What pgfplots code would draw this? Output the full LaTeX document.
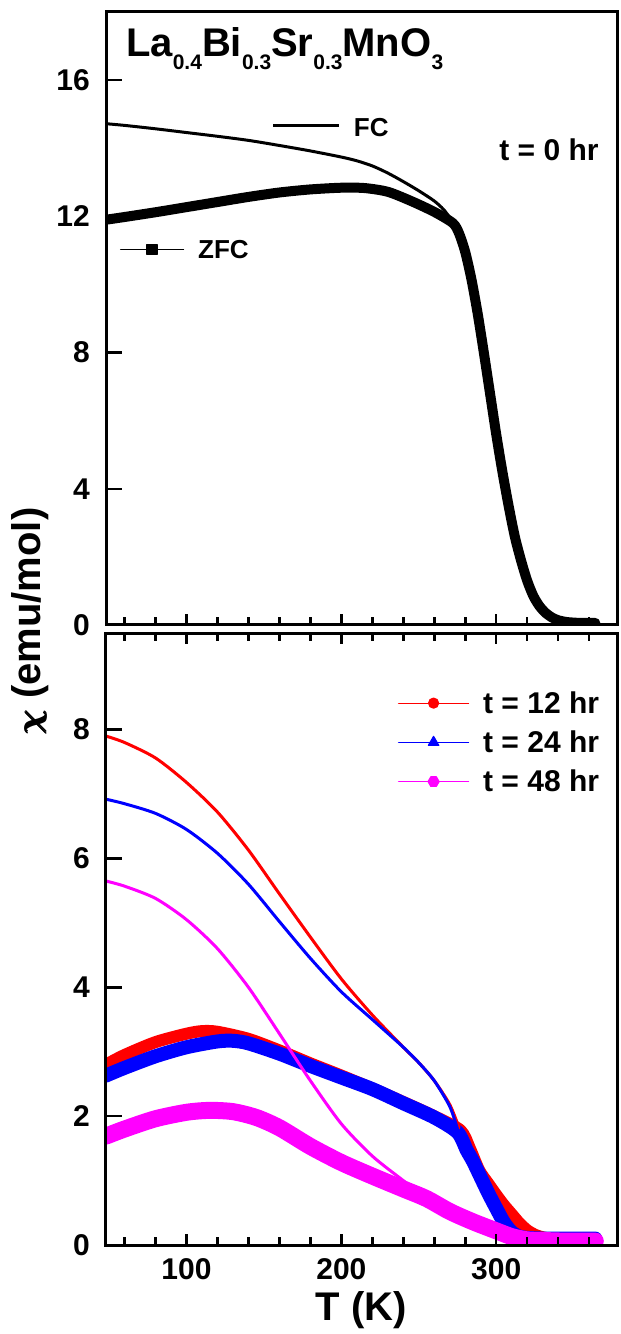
\documentclass[border=0pt]{standalone}
\usepackage{amsmath}
\usepackage{fontspec}
\setmainfont{Liberation Sans}
\usepackage{graphicx}
\usepackage{pgfplots}
\pgfplotsset{compat=1.18}

\definecolor{cred}{RGB}{255,0,0}
\definecolor{cblue}{RGB}{0,0,255}
\definecolor{cmag}{RGB}{255,0,255}

\pgfdeclareplotmark{hexagon*}{%
  \pgfpathmoveto{\pgfqpointpolar{0}{\pgfplotmarksize}}%
  \pgfpathlineto{\pgfqpointpolar{60}{\pgfplotmarksize}}%
  \pgfpathlineto{\pgfqpointpolar{120}{\pgfplotmarksize}}%
  \pgfpathlineto{\pgfqpointpolar{180}{\pgfplotmarksize}}%
  \pgfpathlineto{\pgfqpointpolar{240}{\pgfplotmarksize}}%
  \pgfpathlineto{\pgfqpointpolar{300}{\pgfplotmarksize}}%
  \pgfpathclose\pgfusepathqfillstroke}

\newcommand\sub[1]{\raisebox{-13pt}{\fontsize{21}{21}\selectfont #1}}

\pgfplotsset{
  panel/.style={
    width=511pt, scale only axis,
    xmin=48, xmax=378,
    axis line style={line width=3pt},
    axis on top,
    tick align=inside,
    tick style={black, line width=2.5pt},
    xtick={100,200,300},
    minor xtick={60,80,120,140,160,180,220,240,260,280,320,340,360},
    major tick length=11pt, minor tick length=8pt,
    major y tick style={/pgfplots/major tick length=16pt},
    ytick pos=left,
    tick label style={font=\fontsize{30}{30}\selectfont\bfseries},
    /pgf/number format/assume math mode=true,
    yticklabel style={anchor=east, inner sep=0pt, xshift=-16pt},
    xticklabel style={anchor=north, inner sep=0pt, yshift=-13pt},
    every axis plot/.append style={line join=round, line cap=round, smooth, tension=0.45},
  }
}

\begin{document}
\begin{tikzpicture}
% lower panel: after ageing
\begin{axis}[panel, at={(106pt,89pt)}, anchor=south west, height=612pt,
  ymin=0, ymax=9.5, ytick={0,2,4,6,8},
  xtick pos=both, xticklabel pos=left,
  xlabel={T (K)}, ylabel={\scalebox{1.35}{$\pmb{\boldsymbol{\chi}}$} (emu/mol)},
  label style={font=\fontsize{40}{40}\selectfont\bfseries},
  xlabel style={at={(rel axis cs:0.5,-0.106)}, anchor=center},
  ylabel style={at={(rel axis cs:-0.149,1.02)}, anchor=center},
  legend style={draw=none, fill=none, inner sep=0pt,
    at={(rel axis cs:0.571,0.908)}, anchor=north west,
    font=\fontsize{30}{30}\selectfont\bfseries, row sep=12pt,
    /tikz/every odd column/.append style={column sep=12pt}},
  legend cell align=left,
  legend image code/.code={\draw[mark repeat=2, mark phase=2, #1]
    plot coordinates {(0pt,0pt) (35pt,0pt) (70pt,0pt)};},
]
\addlegendimage{cred, line width=1.2pt, mark=*, mark size=5pt}
\addlegendentry{t = 12 hr}
\addlegendimage{cblue, line width=1.2pt, mark=triangle*, mark size=6pt}
\addlegendentry{t = 24 hr}
\addlegendimage{cmag, line width=1.2pt, mark=hexagon*, mark size=5.5pt}
\addlegendentry{t = 48 hr}

% ZFC branches
\addplot[cred, line width=12pt, forget plot] coordinates {
(48,2.80) (60,2.95) (80,3.15) (100,3.28) (110,3.32) (120,3.31) (140,3.20)
(160,3.02) (180,2.82) (200,2.63) (220,2.43) (240,2.22) (260,2.00) (277,1.78)
(283,1.50) (289,1.16) (295,0.95) (300,0.78) (305,0.62) (310,0.48) (315,0.34)
(320,0.23) (325,0.16) (330,0.12) (335,0.10) (345,0.09) (355,0.09) (364,0.09)};
\addplot[cblue, line width=14pt, forget plot] coordinates {
(48,2.63) (60,2.75) (80,2.93) (100,3.07) (120,3.16) (130,3.17) (140,3.13)
(160,2.97) (180,2.78) (200,2.60) (220,2.42) (240,2.20) (260,1.98) (275,1.75)
(281,1.47) (285,1.30) (290,1.05) (295,0.80) (300,0.57) (305,0.35) (310,0.20)
(315,0.13) (320,0.11) (330,0.10) (345,0.10) (364,0.10)};
% FC branches
\addplot[cred, line width=3pt, forget plot] coordinates {
(48,7.90) (60,7.80) (80,7.56) (100,7.18) (120,6.72) (140,6.13) (160,5.45)
(180,4.78) (200,4.13) (220,3.57) (240,3.07) (250,2.83) (260,2.55) (270,2.18)
(276,1.82)};
\addplot[cblue, line width=3pt, forget plot] coordinates {
(48,6.92) (60,6.85) (80,6.70) (100,6.45) (120,6.08) (140,5.60) (160,5.02)
(180,4.45) (200,3.93) (220,3.50) (240,3.07) (250,2.83) (260,2.55) (270,2.15)
(275,1.80)};
\addplot[cmag, line width=3pt, forget plot] coordinates {
(48,5.65) (60,5.57) (80,5.38) (100,5.05) (120,4.60) (140,4.00) (160,3.28)
(180,2.55) (200,1.88) (220,1.38) (240,1.00) (250,0.82) (255,0.74)};
\addplot[cmag, line width=17pt, forget plot] coordinates {
(48,1.69) (60,1.80) (80,1.96) (100,2.06) (115,2.09) (130,2.07) (145,1.98)
(160,1.82) (180,1.53) (200,1.28) (220,1.07) (240,0.87) (255,0.72) (270,0.52)
(285,0.36) (300,0.22) (310,0.13) (320,0.08) (330,0.07) (345,0.06) (364,0.06)};
\end{axis}

% upper panel: as prepared
\begin{axis}[panel, at={(106pt,709pt)}, anchor=south west, height=613pt,
  ymin=0, ymax=18, ytick={0,4,8,12,16},
  xtick pos=left, xticklabels={},
  legend style={draw=none, fill=none, inner sep=0pt,
    at={(rel axis cs:0.027,0.612)}, anchor=west,
    font=\fontsize{26}{26}\selectfont\bfseries,
    /tikz/every odd column/.append style={column sep=12pt}},
  legend image code/.code={\draw[mark repeat=2, mark phase=2, #1]
    plot coordinates {(0pt,0pt) (31.5pt,0pt) (63pt,0pt)};},
]
\addlegendimage{black, line width=1.2pt, mark=square*, mark size=5pt}
\addlegendentry{ZFC}

\addplot[black, line width=3pt, forget plot] coordinates {
(48,14.72) (60,14.67) (80,14.57) (100,14.46) (120,14.35) (140,14.23)
(160,14.08) (180,13.92) (200,13.74) (210,13.63) (220,13.48) (230,13.27)
(240,13.02) (250,12.75) (260,12.45) (266,12.20) (272,11.85)};
\addplot[black, line width=10pt, forget plot] coordinates {
(48,11.90) (60,11.98) (80,12.12) (100,12.27) (120,12.42) (140,12.57)
(160,12.70) (180,12.79) (200,12.84) (215,12.83) (230,12.72) (245,12.45)
(260,12.13) (272,11.80) (276,11.50) (280,10.95) (284,10.15) (288,9.15)
(292,8.00) (296,6.80) (300,5.60) (304,4.50) (308,3.50) (312,2.60)
(316,1.90) (320,1.30) (324,0.85) (328,0.55) (332,0.35) (336,0.22)
(340,0.14) (345,0.09) (350,0.07) (355,0.06) (360,0.06) (364,0.06)};

\draw[black, line width=3.5pt] (axis cs:156,14.66) -- (axis cs:198.7,14.66);
\node[anchor=west, inner sep=0pt, font=\fontsize{26}{26}\selectfont\bfseries]
  at (axis cs:208,14.6) {FC};
\node[anchor=center, inner sep=0pt, font=\fontsize{30}{30}\selectfont\bfseries]
  at (rel axis cs:0.867,0.775) {t = 0 hr};
\node[anchor=base west, inner sep=0pt, font=\fontsize{40}{40}\selectfont\bfseries]
  at (rel axis cs:0.039,0.927) {La\sub{0.4}Bi\sub{0.3}Sr\sub{0.3}MnO\sub{3}};
\end{axis}

\pgfresetboundingbox
\path[use as bounding box] (0,0) rectangle (621pt,1334pt);
\end{tikzpicture}
\end{document}
